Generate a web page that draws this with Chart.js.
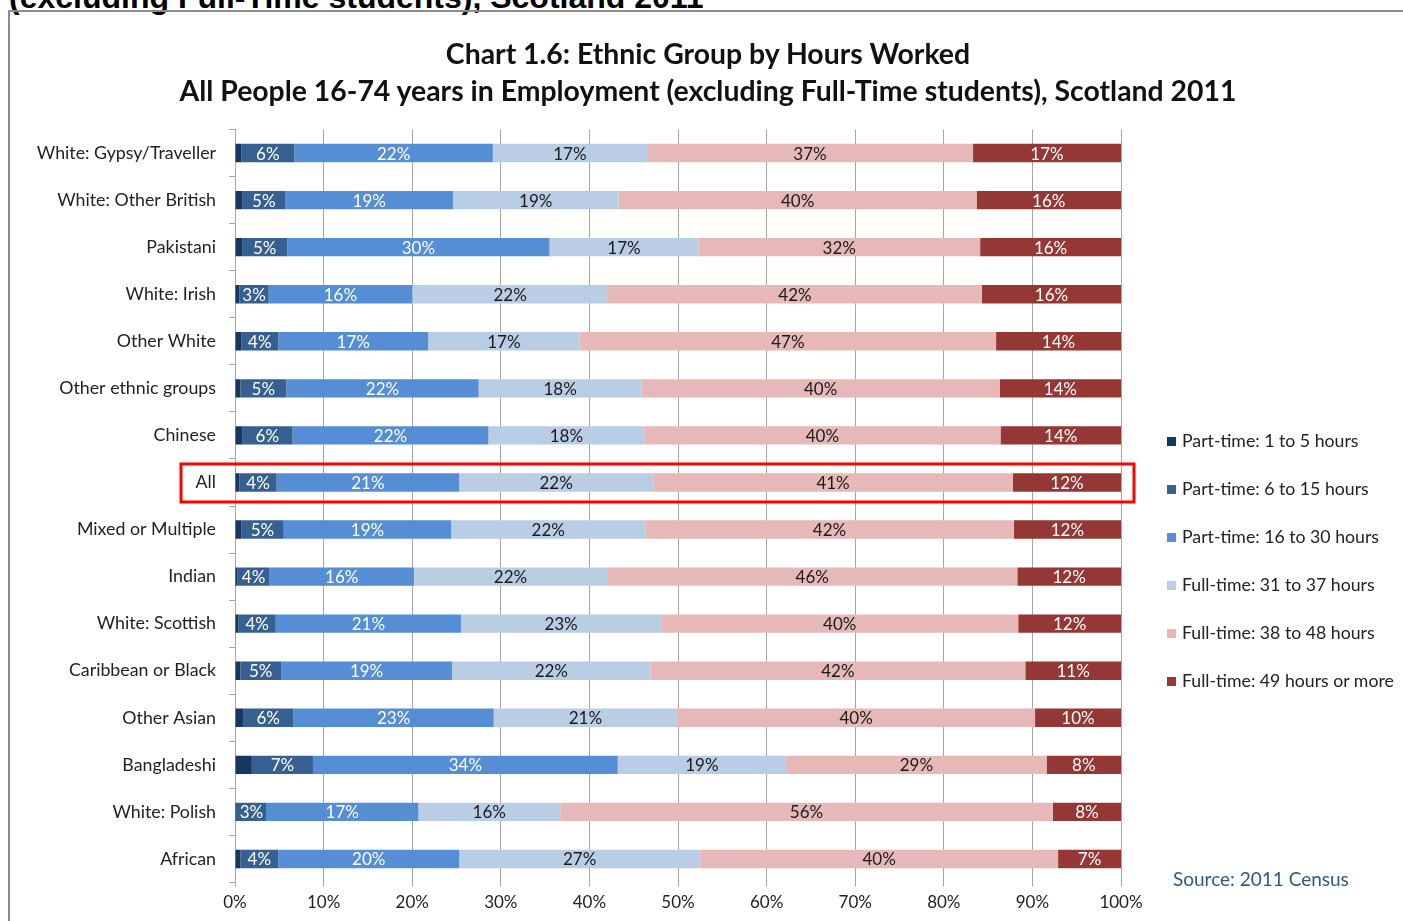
<!DOCTYPE html>
<html>
<head>
<meta charset="utf-8">
<script src="https://cdn.jsdelivr.net/npm/chart.js@4"></script>
<style>
  html, body { margin:0; padding:0; background:#fff; width:1403px; height:921px; overflow:hidden; position:relative; }
  #pagehead { position:absolute; left:9px; top:-19px; font:bold 32px "Liberation Sans", Arial, sans-serif; color:#000; white-space:nowrap; line-height:32px; }
  #frame { position:absolute; left:8px; top:10px; width:1500px; height:1000px; border-left:2px solid #8c8c8c; border-top:2px solid #8c8c8c; }
  #title { position:absolute; left:0; width:1416px; top:35px; text-align:center; font:bold 28.4px Lato, sans-serif; color:#111; line-height:37px; white-space:nowrap; }
  #legend { position:absolute; left:1167px; top:429px; font:17.7px Lato, sans-serif; color:#222; }
  .li { height:48px; display:flex; align-items:flex-start; white-space:nowrap; line-height:24px; }
  .sw { width:9px; height:9px; margin-top:8px; margin-right:6px; flex:none; }
  #source { position:absolute; left:1173px; top:867px; font:19px Lato, sans-serif; color:#2a5a8c; white-space:nowrap; }
  canvas { position:absolute; left:0; top:0; }
</style>
</head>
<body>
<div id="pagehead">(excluding Full-Time students), Scotland 2011</div>
<div id="frame"></div>
<canvas id="c" width="1403" height="921"></canvas>
<div id="title">Chart 1.6: Ethnic Group by Hours Worked<br>All People 16-74 years in Employment (excluding Full-Time students), Scotland 2011</div>
<div id="legend"></div>
<div id="source">Source: 2011 Census</div>
<script>
const categories = ["White: Gypsy/Traveller","White: Other British","Pakistani","White: Irish","Other White","Other ethnic groups","Chinese","All","Mixed or Multiple","Indian","White: Scottish","Caribbean or Black","Other Asian","Bangladeshi","White: Polish","African"];
const seriesNames = ["Part-time: 1 to 5 hours","Part-time: 6 to 15 hours","Part-time: 16 to 30 hours","Full-time: 31 to 37 hours","Full-time: 38 to 48 hours","Full-time: 49 hours or more"];
const pt1to5   = [0.7,0.8,0.8,0.5,0.7,0.6,0.8,0.5,0.7,0.3,0.4,0.6,0.9,1.9,0.2,0.6];
const pt6to15  = [6.0,4.9,5.1,3.3,4.2,5.2,5.7,4.2,4.8,3.6,4.2,4.6,5.7,6.9,3.3,4.3];
const pt16to30 = [22.4,18.9,29.6,16.2,16.9,21.7,22.1,20.6,18.9,16.3,20.9,19.3,22.6,34.4,17.2,20.4];
const ft31to37 = [17.4,18.7,16.8,22.1,17.1,18.4,17.6,21.9,21.9,21.8,22.6,22.4,20.7,19.0,16.0,27.2];
const ft38to48 = [36.8,40.4,31.8,42.2,47.0,40.4,40.2,40.6,41.6,46.3,40.3,42.3,40.4,29.4,55.6,40.4];
const ft49plus = [16.7,16.3,15.9,15.7,14.1,13.7,13.6,12.2,12.1,11.7,11.6,10.8,9.7,8.4,7.7,7.1];
const xTicks = [0,10,20,30,40,50,60,70,80,90,100];
const highlightCategory = "All";

const seriesValues = [pt1to5, pt6to15, pt16to30, ft31to37, ft38to48, ft49plus];
const colors = ["#17375e","#376092","#558ed5","#b9cde5","#e6b9b8","#953735"];
const labelColors = [null,"#ffffff","#ffffff","#1a1a1a","#1a1a1a","#ffffff"];

const legend = document.getElementById('legend');
seriesNames.forEach((n,i)=>{
  const d = document.createElement('div'); d.className='li';
  const s = document.createElement('span'); s.className='sw'; s.style.background=colors[i];
  const t = document.createElement('span'); t.textContent=n;
  d.appendChild(s); d.appendChild(t); legend.appendChild(d);
});

const segLabels = {
  id:'segLabels',
  afterDatasetsDraw(chart){
    const ctx = chart.ctx;
    ctx.save();
    ctx.font = '17px Lato, sans-serif';
    ctx.textAlign='center'; ctx.textBaseline='middle';
    chart.data.datasets.forEach((ds,i)=>{
      if(!labelColors[i]) return;
      const meta = chart.getDatasetMeta(i);
      meta.data.forEach((el,j)=>{
        const cx = (el.x + el.base)/2;
        ctx.fillStyle = labelColors[i];
        ctx.fillText(Math.round(ds.data[j])+'%', cx, el.y+1);
      });
    });
    ctx.restore();
  }
};
const highlight = {
  id:'highlight',
  afterDraw(chart){
    const y = chart.scales.y, a = chart.chartArea;
    const cy = y.getPixelForValue(categories.indexOf(highlightCategory));
    const ctx = chart.ctx;
    ctx.save();
    ctx.strokeStyle='#ff0000'; ctx.lineWidth=3;
    ctx.strokeRect(a.left-54, cy-18.5, (a.right+13)-(a.left-54), 38);
    ctx.restore();
  }
};

new Chart(document.getElementById('c'), {
  type:'bar',
  data:{
    labels:categories,
    datasets: seriesValues.map((v,i)=>({label:seriesNames[i], data:v, backgroundColor:colors[i], borderWidth:0, categoryPercentage:1, barPercentage:0.39}))
  },
  options:{
    indexAxis:'y', responsive:false, animation:false, devicePixelRatio:1,
    layout:{padding:{left:0,right:282,top:129.5,bottom:0}},
    plugins:{legend:{display:false}, title:{display:false}, tooltip:{enabled:false}},
    scales:{
      x:{stacked:true, min:0, max:100, afterBuildTicks(s){ s.ticks = xTicks.map(v=>({value:v})); },
         ticks:{callback:v=>v+'%', font:{family:'Lato', size:17}, color:'#222', padding:6, maxRotation:0},
         grid:{color:'#a6a6a6', tickLength:4, lineWidth:1},
         border:{display:false},
         afterFit(s){ s.height = 38.5; }},
      y:{stacked:true,
         ticks:{font:{family:'Lato', size:17.8}, color:'#222', padding:13},
         grid:{drawOnChartArea:false, offset:true, tickLength:6, color:'#a6a6a6'},
         border:{display:true, color:'#a6a6a6'},
         afterFit(s){ s.width = 235; }}
    }
  },
  plugins:[segLabels, highlight]
});
</script>
</body>
</html>
